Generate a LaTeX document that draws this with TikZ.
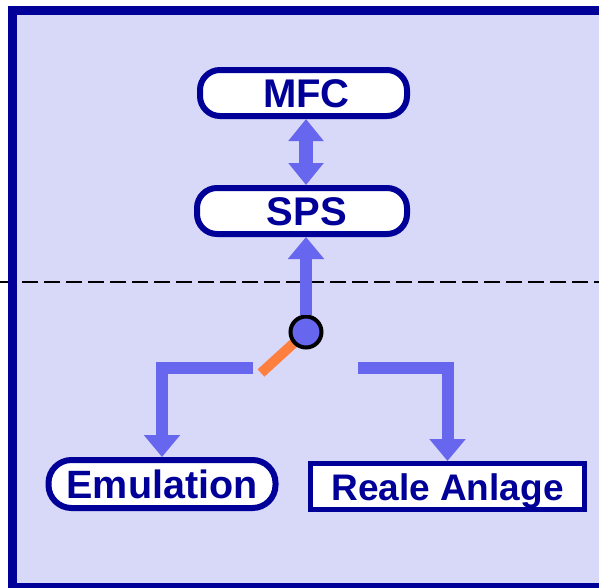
\documentclass[tikz,border=0pt]{standalone}
\usepackage{fontspec}
\setmainfont{Liberation Sans}
\usetikzlibrary{arrows.meta}

\definecolor{framefill}{RGB}{216,216,248}
\definecolor{darkline}{RGB}{0,0,153}
\definecolor{flowblue}{RGB}{102,102,238}
\definecolor{switchorange}{RGB}{255,127,63}

\begin{document}
\begin{tikzpicture}[x=1pt, y=-1pt,
    every node/.style = {align=center, text=darkline, inner sep=0pt},
    unit_round/.style={draw=darkline, fill=white, line width=6pt,
      rounded corners=20pt, minimum height=46pt, text height=29pt, text depth=0pt,
      font=\bfseries\fontsize{40}{48}\selectfont},
    unit_pill/.style={unit_round, rounded corners=23pt, minimum height=48pt,
      text height=28pt, font=\bfseries\fontsize{39.5}{46}\selectfont},
    unit_box/.style={draw=darkline, fill=white, line width=5pt,
      minimum height=46pt, text height=27pt, text depth=0pt,
      font=\bfseries\fontsize{37}{44}\selectfont},
    switch_node/.style={circle, draw=black, fill=flowblue, line width=4pt, minimum size=31pt},
    flow/.style={draw=flowblue, line width=12pt, -{Triangle[width=35pt,length=22pt]}},
    flow_double/.style={draw=flowblue, line width=14pt,
      {Triangle[width=34pt,length=22pt]}-{Triangle[width=34pt,length=22pt]}},
    ]

    \useasboundingbox (0,0) rectangle (599,587);
    \clip (0,0) rectangle (599,587);

    % frame and separating line
    \fill[framefill] (12.5,10.5) rectangle (610,587.5);
    \draw[black, line width=2pt, dash pattern=on 16pt off 6pt] (0,282) -- (599,282);
    \draw[darkline, line width=9pt] (12.5,10.5) rectangle (610,587.5);

    \node[unit_round, minimum width=207pt] (mfc) at (303.5,93) {\hspace*{6pt}MFC};
    \node[unit_round, minimum width=210pt] (sps) at (302,211) {\hspace*{10pt}SPS};
    \node[unit_pill, minimum width=227pt] (emu) at (162,484) {Emulation};
    \node[unit_box, minimum width=274pt] (real) at (447.5,486.5) {Reale Anlage};

    \coordinate (pivot) at (306,332);
    \coordinate (contact) at (261,373);
    \coordinate (left_end) at (253,367.5);
    \coordinate (right_end) at (358,367.5);

    \draw[switchorange, line width=10pt] (pivot) -- (contact);
    \node[switch_node] (switch) at (pivot) {};

    \draw[flow_double] (mfc.south -| pivot) -- (sps.north -| pivot);
    \draw[flow] (switch.north) -- (sps.south -| switch);
    \draw[flow] (left_end) -| (emu.north);
    \draw[flow] (right_end) -| (real.north);

\end{tikzpicture}
\end{document}
